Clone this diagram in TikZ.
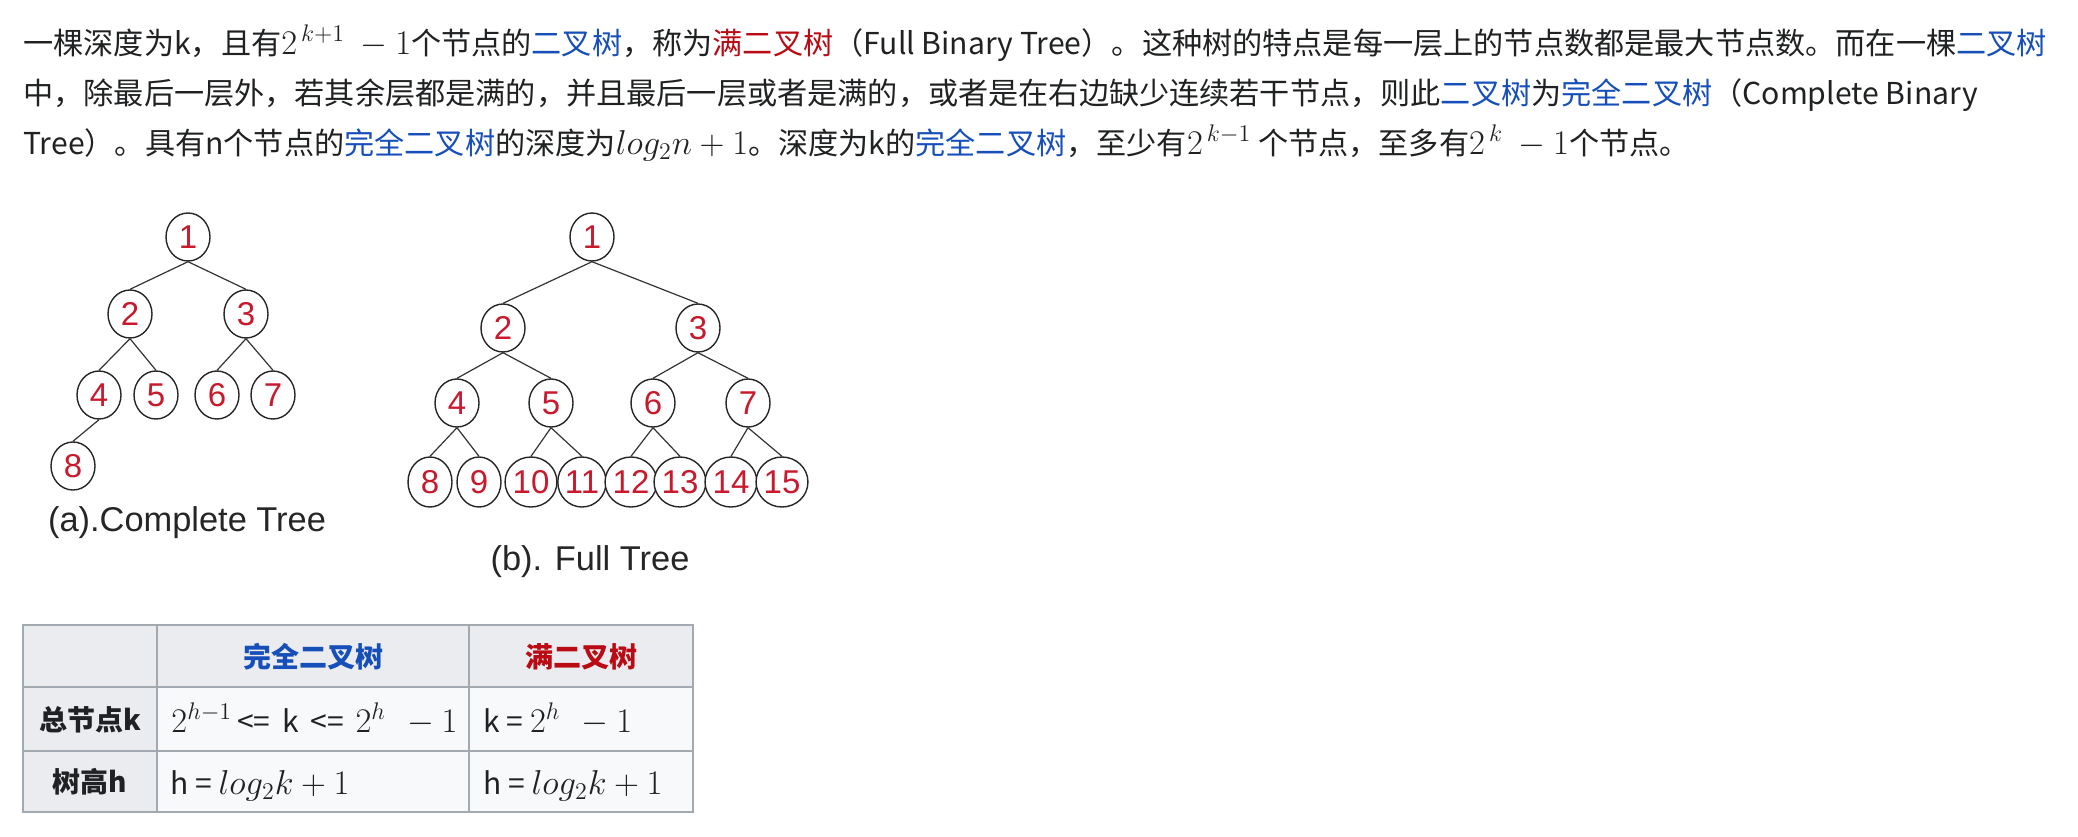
\documentclass[tikz,border=0pt]{standalone}
\usepackage{fontspec}
\usepackage{amsmath}
\setmainfont{Noto Sans CJK SC}
\newfontfamily\numfont{Liberation Sans}
\usetikzlibrary{shapes.geometric,positioning}
\definecolor{ink}{RGB}{32,33,34}
\definecolor{linkblue}{RGB}{22,78,186}
\definecolor{fullred}{RGB}{186,10,20}
\definecolor{numred}{RGB}{200,25,45}
\definecolor{tblline}{RGB}{162,169,177}
\definecolor{tblhead}{RGB}{234,236,240}
\definecolor{tblbody}{RGB}{248,249,250}
\newcommand{\mth}[1]{{\fontsize{17.5}{18}\selectfont$#1$}}
\newcommand{\tmth}[1]{{\fontsize{17.5}{18}\selectfont$#1$}}
\newcommand{\lnk}[1]{\textcolor{linkblue}{#1}}
\newcommand{\rd}[1]{\textcolor{fullred}{#1}}

\begin{document}
\begin{tikzpicture}[x=0.5pt, y=-0.5pt,
    txt/.style={anchor=base west, inner sep=0pt, text=ink, font=\fontsize{15.08}{18}\selectfont},
    hd/.style={anchor=base, inner sep=0pt, text=ink, font=\fontsize{14}{18}\selectfont\bfseries},
    cell/.style={txt, font=\fontsize{15}{18}\selectfont},
    tnode/.style={ellipse, draw=black!85, line width=0.7pt, fill=white, minimum width=22pt, minimum height=24pt, inner sep=0pt, text=numred, font=\numfont\fontsize{16.5}{18}\selectfont},
    branch/.style={draw=black!80, line width=0.6pt},
    treecap/.style={inner sep=0pt, text=black!85, font=\numfont\fontsize{17.2}{20}\selectfont}]
\useasboundingbox[fill=white] (0,0) rectangle (2078,836);

\node[txt] (line1) at (23,54) {一棵深度为k，且有\mth{2^{\,k+1}\ -1}个节点的\lnk{二叉树}，称为\rd{满二叉树}（Full Binary Tree）。这种树的特点是每一层上的节点数都是最大节点数。而在一棵\lnk{二叉树}};
\node[txt] (line2) at (23,104) {中，除最后一层外，若其余层都是满的，并且最后一层或者是满的，或者是在右边缺少连续若干节点，则此\lnk{二叉树}为\lnk{完全二叉树}（Complete Binary};
\node[txt] (line3) at (23,154) {Tree）。具有n个节点的\lnk{完全二叉树}的深度为\mth{log_2 n+1}。深度为k的\lnk{完全二叉树}，至少有\mth{2^{\,k-1}} 个节点，至多有\mth{2^{\,k}\ -1}个节点。};

\node[tnode] (a1) at (188,237) {1};
\node[tnode] (a2) at (130,314) {2};
\node[tnode] (a3) at (246,314) {3};
\node[tnode] (a4) at (99,395) {4};
\node[tnode] (a5) at (156,395) {5};
\node[tnode] (a6) at (217,395) {6};
\node[tnode] (a7) at (273,395) {7};
\node[tnode] (a8) at (73,466) {8};
\draw[branch] (a1.south) -- (a2.north);
\draw[branch] (a1.south) -- (a3.north);
\draw[branch] (a2.south) -- (a4.north);
\draw[branch] (a2.south) -- (a5.north);
\draw[branch] (a3.south) -- (a6.north);
\draw[branch] (a3.south) -- (a7.north);
\draw[branch] (a4.south) -- (a8.north);
\node[treecap] (capa) at (187,523) {(a).Complete Tree};

\node[tnode] (b1) at (592,237) {1};
\node[tnode] (b2) at (503,328) {2};
\node[tnode] (b3) at (698,328) {3};
\node[tnode] (b4) at (457,403) {4};
\node[tnode] (b5) at (551,403) {5};
\node[tnode] (b6) at (653,403) {6};
\node[tnode] (b7) at (748,403) {7};
\foreach \n/\x in {8/430,9/479,10/531,11/582,12/631,13/680,14/731,15/782}
    \node[tnode, minimum height=25pt] (b\n) at (\x,482) {\n};
\foreach \p/\c in {1/2,1/3,2/4,2/5,3/6,3/7,4/8,4/9,5/10,5/11,6/12,6/13,7/14,7/15}
    \draw[branch] (b\p.south) -- (b\c.north);
\node[treecap] (capb) at (590,562) {(b). Full Tree};

\draw[tblline, line width=1pt, fill=tblhead] (23,625) rectangle (693,812);
\fill[tblbody] (157,687) rectangle (693,812);
\draw[tblline, line width=1pt] (23,625) rectangle (693,812);
\draw[tblline, line width=1pt] (23,687) -- (693,687) (23,751) -- (693,751) (157,625) -- (157,812) (469,625) -- (469,812);

\node[hd, text=linkblue] (hcomp) at (313,667) {完全二叉树};
\node[hd, text=fullred] (hfull) at (581,667) {满二叉树};
\node[hd] (rk) at (90,730) {总节点k};
\node[hd] (rh) at (90,792) {树高h};
\node[cell] (ck) at (171,732) {\tmth{2^{h-1}}\,<=\,\ k\ \,<=\,\ \tmth{2^h\,\ -1}};
\node[cell] (fk) at (483,732) {k = \tmth{2^h\,\ -1}};
\node[cell] (ch) at (170,794) {h = \tmth{log_2 k+1}};
\node[cell] (fh) at (483,794) {h = \tmth{log_2 k+1}};
\end{tikzpicture}
\end{document}
